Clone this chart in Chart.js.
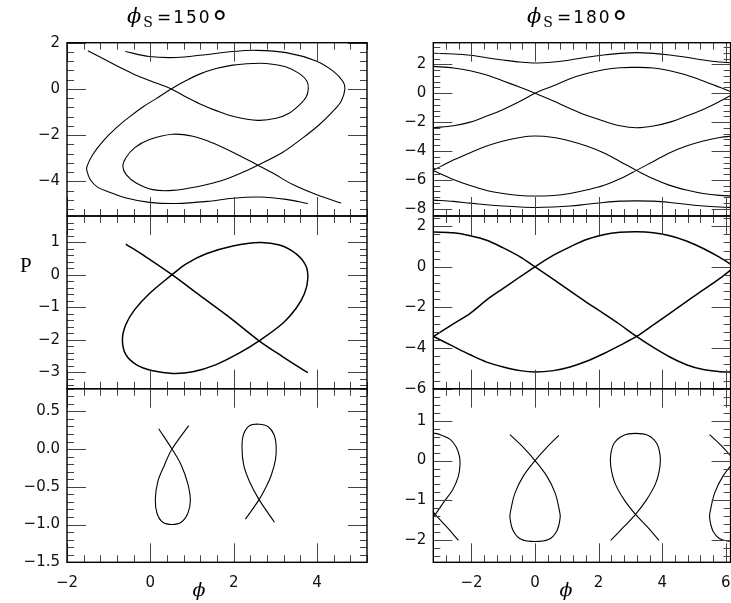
<!DOCTYPE html>
<html>
<head>
    <title>Separatrices</title>
    <script src="https://cdn.jsdelivr.net/npm/chart.js"></script>
    <style>
        body {
            margin: 0;
            background: #fff;
            width: 731px;
            height: 603px;
            overflow: hidden;
            position: relative;
            font-family: 'DejaVu Sans', sans-serif;
        }
        canvas.panel { position: absolute; left: 0; top: 0; }
        .ttl {
            position: absolute;
            font: 17px 'DejaVu Sans';
            letter-spacing: 2px;
            line-height: 30px;
            white-space: nowrap;
            z-index: 5;
        }
        .ph { font-family: 'DejaVu Serif'; font-style: italic; font-size: 21px; line-height: 0; }
        .sub { font-family: 'DejaVu Serif'; font-size: 14px; line-height: 0; position: relative; top: 4px; margin-right: 2px; }
        .deg { font-size: 32px; line-height: 0; letter-spacing: 0; position: relative; top: 11px; }
        .lab { position: absolute; z-index: 5; text-align: center; white-space: nowrap; }
        .ylab { font: 21px 'Liberation Serif'; line-height: 24px; }
        .xlab { font: italic 19px 'DejaVu Serif'; line-height: 24px; width: 30px; }
    </style>
</head>
<body>
    <div class="ttl" style="left:127px; top:2px"><span class="ph">ϕ</span><span class="sub">S</span>=150<span class="deg">°</span></div>
    <div class="ttl" style="left:527px; top:2px"><span class="ph">ϕ</span><span class="sub">S</span>=180<span class="deg">°</span></div>
    <div class="lab ylab" style="left:20px; top:253px">P</div>
    <div class="lab xlab" style="left:184px; top:577px">ϕ</div>
    <div class="lab xlab" style="left:551px; top:577px">ϕ</div>

    <script>
        // ---- values: phase phi and momentum P ----

        // phi_s = 150 deg, top panel
        const tlSep1Phi = [-1.50, -1.22, -0.82, -0.42, -0.02, 0.50, 0.86, 1.18, 1.58, 1.98, 2.58, 3.02, 3.34, 3.58, 3.74, 3.79,
            3.76, 3.58, 3.26, 2.78, 2.46, 1.98, 1.58, 1.18, 0.86, 0.50, 0.14, -0.18, -0.50, -0.82, -1.14, -1.38, -1.52,
            -1.52, -1.44, -1.26, -0.98, -0.58, -0.02, 0.62, 1.42, 1.98, 2.62, 3.26, 3.78];
        const tlSep1P = [1.65, 1.39, 1.01, 0.66, 0.36, 0, -0.35, -0.64, -0.94, -1.18, -1.36, -1.27, -1.04, -0.69, -0.35, 0,
            0.33, 0.66, 0.95, 1.10, 1.10, 1.03, 0.88, 0.64, 0.36, 0, -0.42, -0.78, -1.21, -1.69, -2.27, -2.84, -3.35,
            -3.56, -3.93, -4.26, -4.47, -4.72, -4.91, -4.96, -4.86, -4.73, -4.68, -4.78, -4.96];
        const tlSep2Phi = [-0.60, -0.02, 0.62, 1.26, 1.98, 2.54, 3.26, 3.98, 4.38, 4.62, 4.67, 4.58, 4.38, 4.06, 3.66, 3.18,
            2.58, 2.14, 1.66, 1.18, 0.54, 0.06, -0.34, -0.58, -0.66, -0.59, -0.38, -0.02, 0.54, 1.02, 1.50, 1.98, 2.58,
            2.94, 3.42, 3.98, 4.58];
        const tlSep2P = [1.62, 1.40, 1.36, 1.47, 1.62, 1.67, 1.57, 1.21, 0.78, 0.33, 0, -0.53, -0.97, -1.54, -2.12, -2.74,
            -3.30, -3.67, -4.00, -4.21, -4.39, -4.36, -4.07, -3.71, -3.35, -2.99, -2.55, -2.19, -1.96, -2.05, -2.34, -2.74, -3.30,
            -3.64, -4.14, -4.57, -4.94];

        // phi_s = 150 deg, middle panel
        const mlLinePhi = [-0.59, -0.10, 0.52, 1.18, 1.90, 2.61, 3.18, 3.78];
        const mlLineP = [0.94, 0.54, 0, -0.63, -1.31, -2.03, -2.52, -3.01];
        const mlLoopPhi = [0.52, 0.86, 1.34, 1.98, 2.62, 3.10, 3.50, 3.73, 3.78, 3.70, 3.50, 3.18, 2.61, 2.14, 1.58, 1.02,
            0.54, 0.06, -0.34, -0.59, -0.67, -0.59, -0.38, -0.02, 0.52];
        const mlLoopP = [0, 0.33, 0.64, 0.88, 0.99, 0.91, 0.64, 0.28, -0.12, -0.58, -1.03, -1.49, -2.03, -2.40, -2.76, -2.98,
            -3.03, -2.95, -2.76, -2.45, -2.00, -1.54, -1.08, -0.58, 0];

        // phi_s = 150 deg, bottom panel
        const blFish1Phi = [0.20, 0.52, 0.74, 0.90, 0.96, 0.90, 0.74, 0.52, 0.30, 0.16, 0.12, 0.18, 0.34, 0.52, 0.92];
        const blFish1P = [0.27, 0, -0.21, -0.46, -0.68, -0.85, -0.97, -1.00, -0.97, -0.85, -0.66, -0.43, -0.21, 0, 0.31];
        const blFish2Phi = [2.28, 2.61, 2.78, 2.90, 3.00, 3.02, 2.97, 2.82, 2.61, 2.38, 2.24, 2.20, 2.24, 2.38, 2.61, 2.98];
        const blFish2P = [-0.93, -0.67, -0.50, -0.35, -0.15, 0.03, 0.19, 0.30, 0.33, 0.31, 0.20, 0.03, -0.21, -0.43, -0.67, -0.97];

        // phi_s = 180 deg, top and middle panels share one phi grid
        const phiGrid = [-3.19, -2.57, -2.04, -1.52, -1.00, -0.47, 0, 0.58, 1.10, 1.62, 2.15, 2.67, 3.19, 3.72, 4.24, 4.76, 5.29, 5.81, 6.28];
        const trTop = [2.76, 2.72, 2.63, 2.46, 2.30, 2.16, 2.09, 2.16, 2.30, 2.49, 2.65, 2.76, 2.81, 2.76, 2.65, 2.49, 2.30, 2.16, 2.09];
        const trSepA = [1.86, 1.75, 1.56, 1.26, 0.85, 0.41, 0, -0.54, -1.05, -1.53, -1.92, -2.25, -2.39, -2.27, -2.00, -1.58, -1.12, -0.56, 0];
        const trSepB = [-2.39, -2.25, -2.00, -1.58, -1.12, -0.56, 0, 0.52, 1.01, 1.37, 1.63, 1.77, 1.79, 1.75, 1.56, 1.26, 0.85, 0.41, 0];
        const trSepC = [-5.32, -4.63, -4.12, -3.66, -3.31, -3.06, -2.96, -3.06, -3.31, -3.66, -4.12, -4.72, -5.34, -5.92, -6.38, -6.70, -6.94, -7.07, -7.12];
        const trSepD = [-5.36, -5.97, -6.39, -6.73, -6.94, -7.08, -7.12, -7.08, -6.94, -6.70, -6.39, -5.92, -5.34, -4.72, -4.12, -3.66, -3.31, -3.06, -2.96];
        const trBottom = [-7.40, -7.49, -7.61, -7.72, -7.81, -7.88, -7.91, -7.88, -7.81, -7.69, -7.56, -7.47, -7.45, -7.47, -7.56, -7.69, -7.81, -7.88, -7.91];

        const mrE = [1.71, 1.67, 1.53, 1.31, 0.93, 0.49, 0, -0.62, -1.19, -1.75, -2.29, -2.84, -3.43, -3.97, -4.44, -4.82, -5.06, -5.16, -5.19];
        const mrF = [-3.43, -2.81, -2.29, -1.63, -1.06, -0.49, 0, 0.57, 0.98, 1.34, 1.58, 1.70, 1.73, 1.68, 1.53, 1.27, 0.90, 0.46, 0];
        const mrG = [-3.43, -3.92, -4.33, -4.69, -4.93, -5.11, -5.18, -5.11, -4.93, -4.65, -4.28, -3.87, -3.43, -2.86, -2.29, -1.71, -1.14, -0.57, 0];

        // phi_s = 180 deg, bottom panel
        const brMidPhi = [-0.79, -0.37, 0, 0.37, 0.63, 0.76, 0.79, 0.68, 0.42, 0, -0.42, -0.68, -0.79, -0.76, -0.63, -0.37, 0, 0.37, 0.75];
        const brMidP = [0.65, 0.33, 0, -0.39, -0.81, -1.23, -1.43, -1.77, -1.98, -2.03, -1.98, -1.77, -1.43, -1.23, -0.81, -0.39, 0, 0.33, 0.63];
        const brPiPhi = [2.38, 2.78, 3.16, 3.51, 3.80, 3.93, 3.93, 3.82, 3.56, 3.16, 2.78, 2.49, 2.38, 2.38, 2.51, 2.80, 3.16, 3.54, 3.90];
        const brPiP = [-2.00, -1.67, -1.35, -0.98, -0.56, -0.14, 0.15, 0.44, 0.63, 0.68, 0.63, 0.44, 0.15, -0.14, -0.56, -0.98, -1.35, -1.67, -2.00];
        const brLeftLoopPhi = [-3.30, -3.14, -2.93, -2.67, -2.48, -2.38, -2.36, -2.41, -2.59, -2.86, -3.14, -3.50];
        const brLeftLoopP = [0.66, 0.68, 0.63, 0.53, 0.34, 0.11, -0.10, -0.39, -0.73, -1.03, -1.35, -1.67];
        const brLeftTailPhi = [-3.50, -3.14, -2.77, -2.41];
        const brLeftTailP = [-0.98, -1.35, -1.67, -2.00];
        const brRightTailPhi = [5.49, 5.91, 6.28];
        const brRightTailP = [0.65, 0.33, 0];
        const brRightLoopPhi = [6.28, 5.86, 5.60, 5.49, 5.52, 5.65, 5.91, 6.28];
        const brRightLoopP = [-2.03, -1.98, -1.77, -1.43, -1.23, -0.81, -0.39, 0];

        // tick labels
        const yTicksTL = [-4, -2, 0, 2];
        const yTicksML = [-3, -2, -1, 0, 1];
        const yTicksBL = [-1.5, -1.0, -0.5, 0.0, 0.5];
        const xTicksLeft = [-2, 0, 2, 4];
        const yTicksTR = [-8, -6, -4, -2, 0, 2];
        const yTicksMR = [-6, -4, -2, 0, 2];
        const yTicksBR = [-2, -1, 0, 1];
        const xTicksRight = [-2, 0, 2, 4, 6];

        function pts(xs, ys) {
            return xs.map((x, i) => ({ x: x, y: ys[i] }));
        }

        function fmt(v, dec) {
            return (v < 0 ? '\u2212' : '') + Math.abs(v).toFixed(dec);
        }

        const W = 731, H = 603;
        const colL = [67, 367], colR = [433.3, 730.6];
        const rows = [[42.7, 216], [216, 388.7], [388.7, 562.3]];

        const panels = [
            { col: colL, row: rows[0], x: [-2, 5.2], y: [-5.5, 2], xStep: [2, 0.4], yStep: [2, 0.4], yTicks: yTicksTL, yDec: 0, lw: 1.1,
              curves: [pts(tlSep1Phi, tlSep1P), pts(tlSep2Phi, tlSep2P)] },
            { col: colL, row: rows[1], x: [-2, 5.2], y: [-3.5, 1.8], xStep: [2, 0.4], yStep: [1, 0.2], yTicks: yTicksML, yDec: 0, lw: 1.5,
              curves: [pts(mlLinePhi, mlLineP), pts(mlLoopPhi, mlLoopP)] },
            { col: colL, row: rows[2], x: [-2, 5.2], y: [-1.5, 0.8], xStep: [2, 0.4], yStep: [0.5, 0.1], yTicks: yTicksBL, yDec: 1, lw: 1.1,
              xTicks: xTicksLeft, curves: [pts(blFish1Phi, blFish1P), pts(blFish2Phi, blFish2P)] },
            { col: colR, row: rows[0], x: [-3.2, 6.15], y: [-8.5, 3.5], xStep: [2, 0.4], yStep: [2, 0.4], yTicks: yTicksTR, yDec: 0, lw: 1.1,
              curves: [trTop, trSepA, trSepB, trSepC, trSepD, trBottom].map(s => pts(phiGrid, s)) },
            { col: colR, row: rows[1], x: [-3.2, 6.15], y: [-6, 2.5], xStep: [2, 0.4], yStep: [2, 0.4], yTicks: yTicksMR, yDec: 0, lw: 1.5,
              curves: [mrE, mrF, mrG].map(s => pts(phiGrid, s)) },
            { col: colR, row: rows[2], x: [-3.2, 6.15], y: [-2.55, 1.8], xStep: [2, 0.4], yStep: [1, 0.2], yTicks: yTicksBR, yDec: 0, lw: 1.1,
              xTicks: xTicksRight,
              curves: [pts(brMidPhi, brMidP), pts(brPiPhi, brPiP), pts(brLeftLoopPhi, brLeftLoopP), pts(brLeftTailPhi, brLeftTailP),
                       pts(brRightTailPhi, brRightTailP), pts(brRightLoopPhi, brRightLoopP)] }
        ];

        // frame with inward major/minor ticks on all four sides, plus tick labels
        function frameTicks(p) {
            return {
                id: 'frameTicks',
                afterDraw(chart) {
                    const ctx = chart.ctx, a = chart.chartArea;
                    const sx = chart.scales.x, sy = chart.scales.y;
                    ctx.save();
                    ctx.strokeStyle = '#444';
                    ctx.lineWidth = 1;
                    function ticks(scale, step, len, isX) {
                        const i0 = Math.ceil(scale.min / step - 1e-6), i1 = Math.floor(scale.max / step + 1e-6);
                        ctx.beginPath();
                        for (let i = i0; i <= i1; i++) {
                            const q = Math.round(scale.getPixelForValue(i * step)) + 0.5;
                            if (isX) {
                                ctx.moveTo(q, a.top); ctx.lineTo(q, a.top + len);
                                ctx.moveTo(q, a.bottom); ctx.lineTo(q, a.bottom - len);
                            } else {
                                ctx.moveTo(a.left, q); ctx.lineTo(a.left + len, q);
                                ctx.moveTo(a.right, q); ctx.lineTo(a.right - len, q);
                            }
                        }
                        ctx.stroke();
                    }
                    ticks(sx, p.xStep[1], 7, true);
                    ticks(sx, p.xStep[0], 19, true);
                    ticks(sy, p.yStep[1], 7, false);
                    ticks(sy, p.yStep[0], 19, false);

                    ctx.strokeStyle = '#000';
                    ctx.lineWidth = 1.4;
                    ctx.strokeRect(a.left, a.top, a.right - a.left, a.bottom - a.top);

                    ctx.fillStyle = '#111';
                    ctx.font = '15px "DejaVu Sans"';
                    ctx.textAlign = 'right';
                    ctx.textBaseline = 'middle';
                    p.yTicks.forEach(v => ctx.fillText(fmt(v, p.yDec), a.left - 7, sy.getPixelForValue(v)));
                    if (p.xTicks) {
                        ctx.textAlign = 'center';
                        ctx.textBaseline = 'alphabetic';
                        p.xTicks.forEach(v => ctx.fillText(fmt(v, 0), sx.getPixelForValue(v), a.bottom + 25));
                    }
                    ctx.restore();
                }
            };
        }

        panels.forEach(p => {
            const cv = document.createElement('canvas');
            cv.className = 'panel';
            cv.width = W;
            cv.height = H;
            cv.style.width = W + 'px';
            cv.style.height = H + 'px';
            document.body.appendChild(cv);

            new Chart(cv, {
                type: 'scatter',
                data: {
                    datasets: p.curves.map(c => ({
                        data: c,
                        showLine: true,
                        borderColor: '#000',
                        borderWidth: p.lw,
                        pointRadius: 0,
                        tension: 0.35,
                        clip: 0
                    }))
                },
                options: {
                    responsive: false,
                    animation: false,
                    devicePixelRatio: 1,
                    events: [],
                    layout: {
                        padding: { left: p.col[0], right: W - p.col[1], top: p.row[0], bottom: H - p.row[1] }
                    },
                    plugins: {
                        legend: { display: false },
                        tooltip: { enabled: false }
                    },
                    scales: {
                        x: { type: 'linear', min: p.x[0], max: p.x[1], display: false },
                        y: { type: 'linear', min: p.y[0], max: p.y[1], display: false }
                    }
                },
                plugins: [frameTicks(p)]
            });
        });
    </script>
</body>
</html>
